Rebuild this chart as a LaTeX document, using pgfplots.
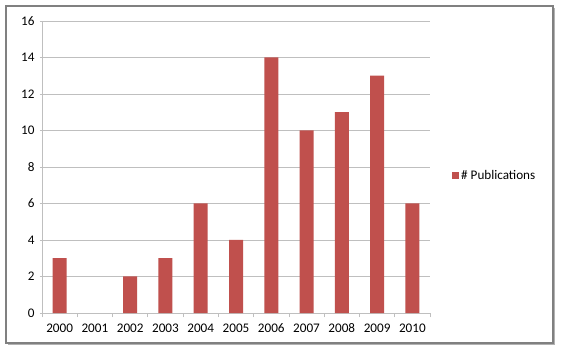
\documentclass[border=0pt]{standalone}
\usepackage{pgfplots}
\pgfplotsset{compat=1.18}
\usepackage{fontspec}
\setmainfont{Carlito}
\definecolor{barred}{HTML}{C0504D}
\definecolor{gridgray}{HTML}{BFBFBF}
\begin{document}
\begin{tikzpicture}
% frame & shadow
\fill[black!30] (-34bp,-32bp) rectangle (513bp,305bp);
\filldraw[fill=white,draw=black!50,line width=1.2bp] (-36bp,-30bp) rectangle (511bp,307bp);
\path (-42bp,-38bp) rectangle (519bp,313bp);
\begin{axis}[
  scale only axis,
  width=388bp, height=292bp,
  ymin=0, ymax=16, ytick={0,2,...,16},
  xmin=-0.5, xmax=10.5,
  xtick={0,...,10},
  xticklabels={2000,2001,2002,2003,2004,2005,2006,2007,2008,2009,2010},
  minor xtick={-0.5,0.5,...,10.5},
  xtick style={draw=none},
  minor x tick style={draw=gridgray, line width=0.8bp},
  y tick style={draw=gridgray, line width=0.8bp},
  minor tick length=4bp,
  major tick length=4bp,
  tick align=outside,
  axis lines=left,
  axis line style={-, draw=gridgray, line width=0.8bp},
  ymajorgrids,
  grid style={draw=gridgray, line width=0.8bp},
  ybar, bar width=14bp,
  tick label style={font=\fontsize{13.2}{15}\selectfont},
  /pgf/number format/assume math mode=true,
  yticklabel style={xshift=-2bp},
  xticklabel style={yshift=-3bp},
  legend style={at={(rel axis cs:1,0.47)}, anchor=west, xshift=22bp, draw=none, fill=none,
    font=\fontsize{13.2}{15}\selectfont, inner sep=0pt},
  legend image code/.code={\fill[barred] (0bp,-3.5bp) rectangle (7bp,3.5bp);},
  clip=false,
]
\addplot[fill=barred, draw=none] coordinates {
 (0,3) (2,2) (3,3) (4,6) (5,4) (6,14) (7,10) (8,11) (9,13) (10,6)};
\addlegendentry{\# Publications}
\end{axis}
\end{tikzpicture}
\end{document}
